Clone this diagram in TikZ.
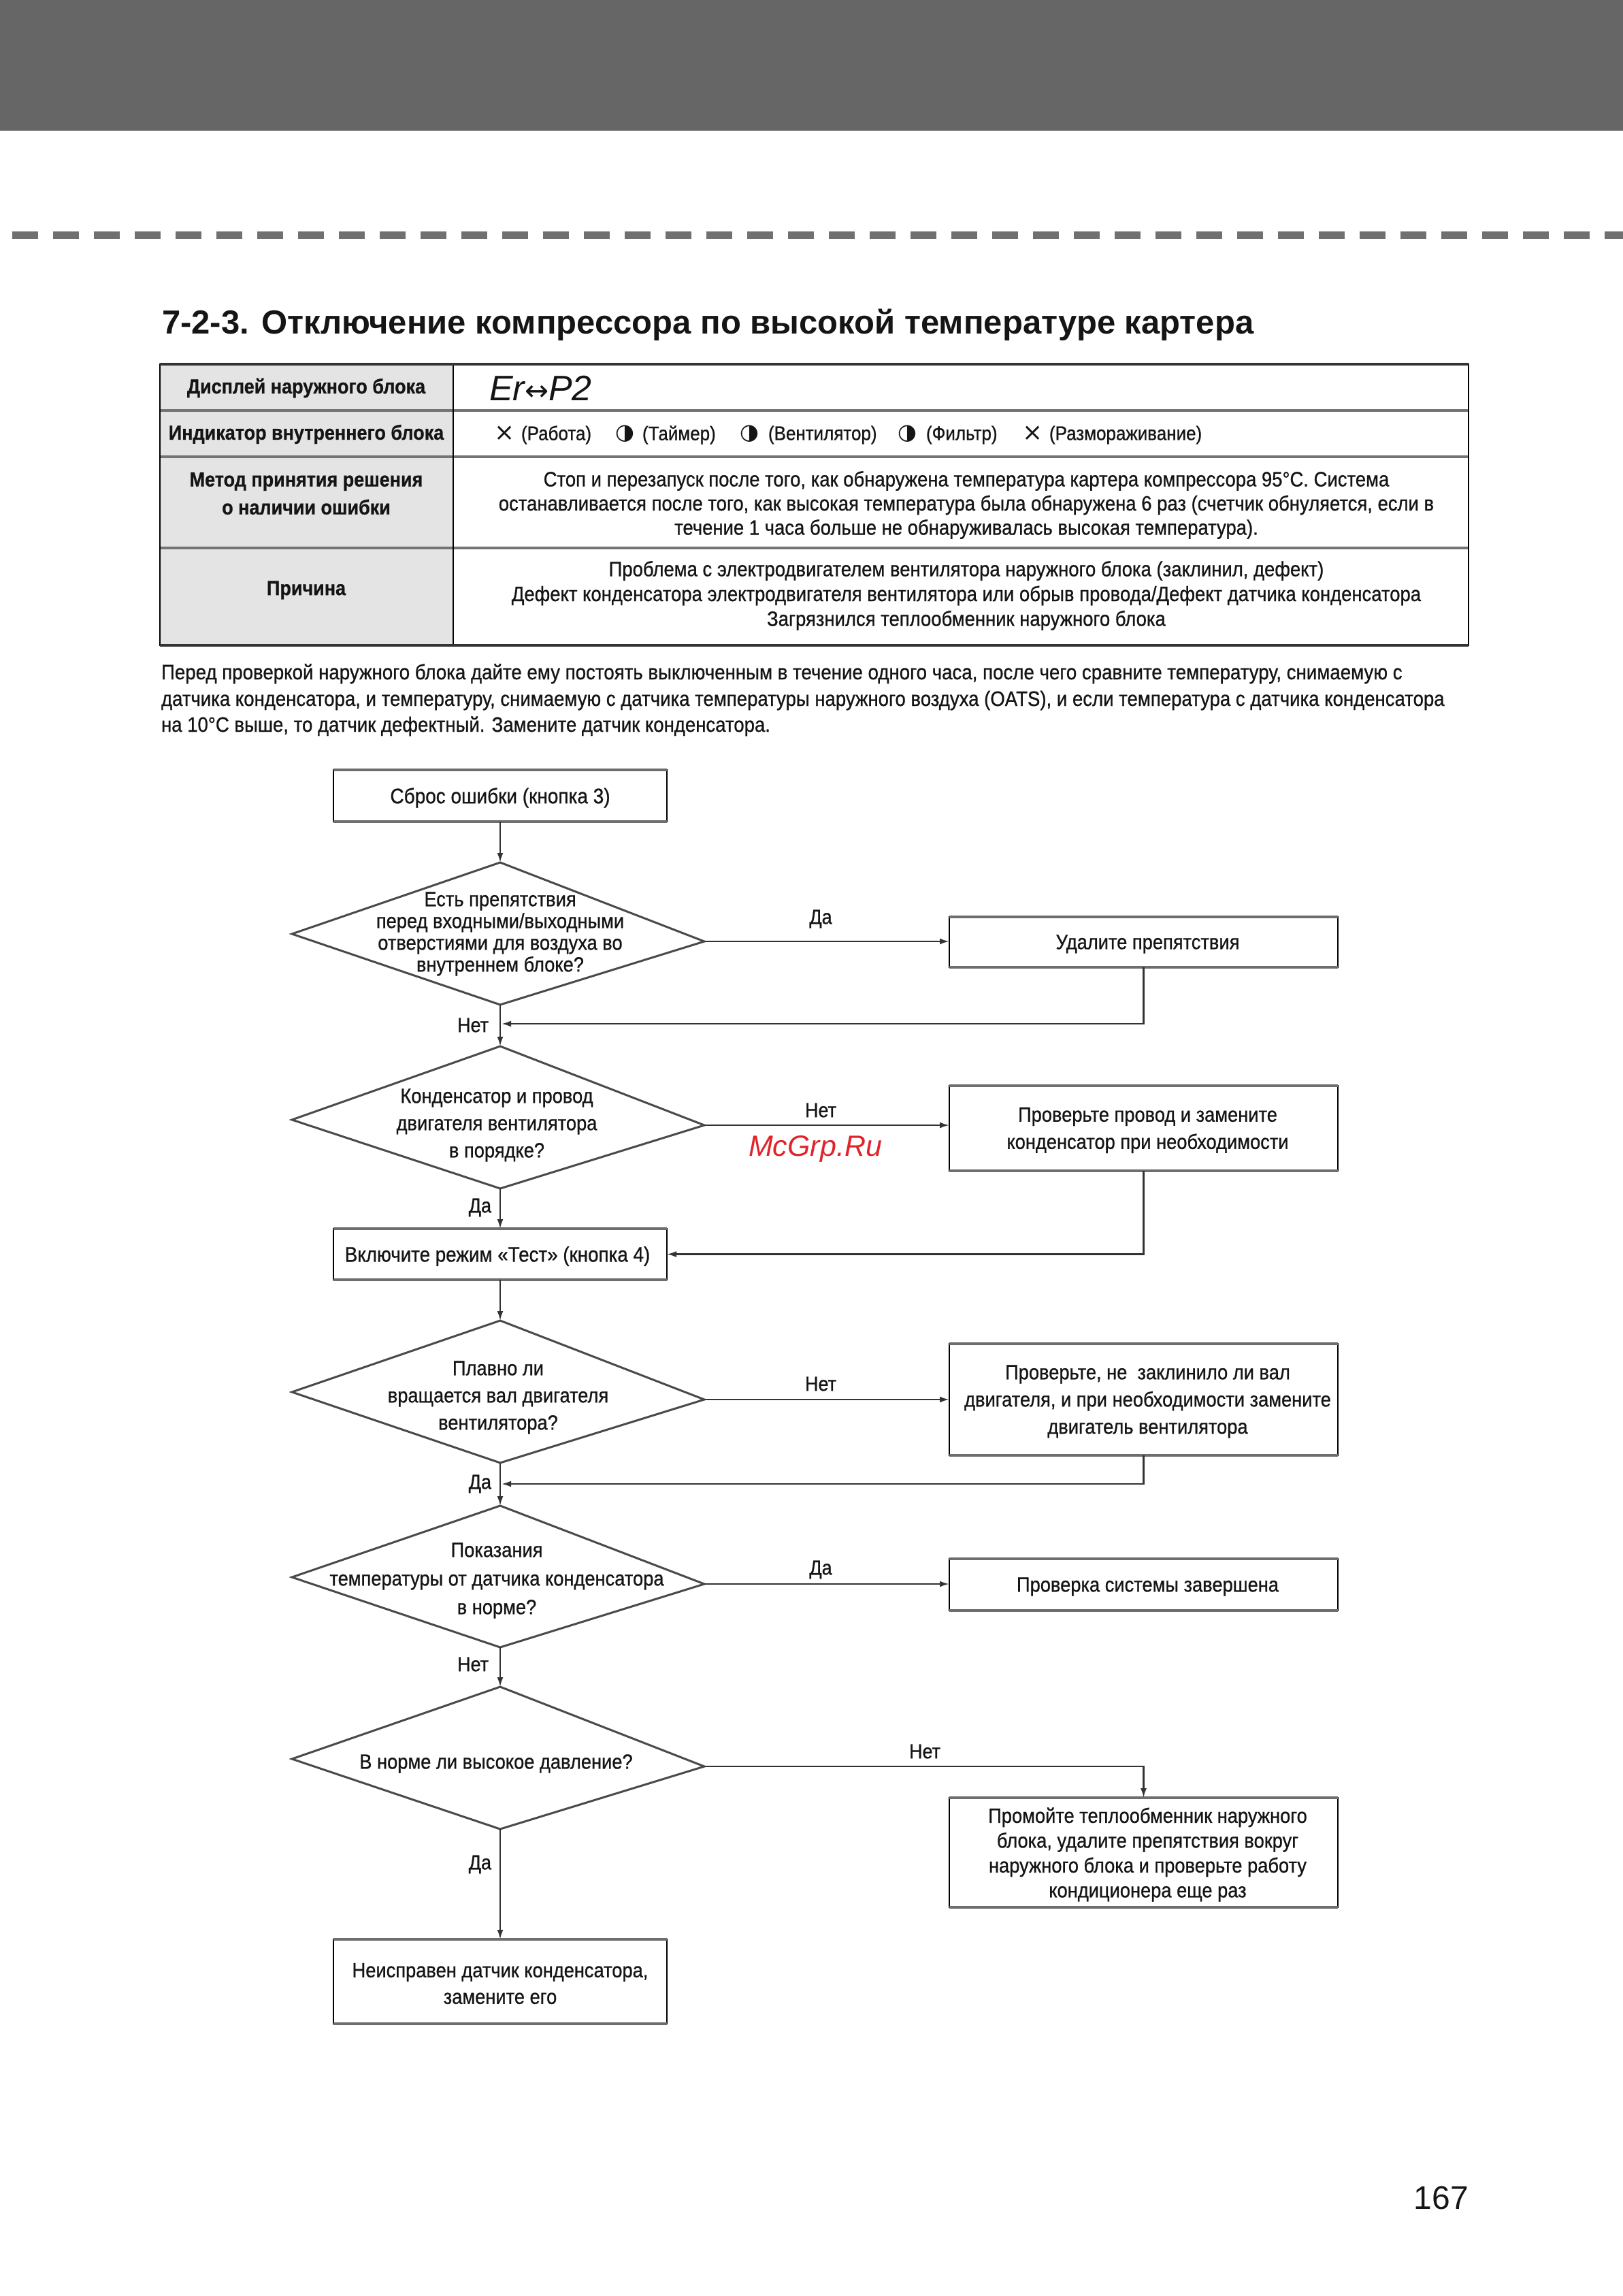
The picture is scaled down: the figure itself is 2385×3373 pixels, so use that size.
\documentclass[tikz,border=0pt]{standalone}
\usepackage{fontspec}
\setmainfont{Liberation Sans}[Scale=1.11, FakeStretch=0.9, FakeBold=0.8]
\newfontfamily\ttlfont{Liberation Sans}
\newfontfamily\djv{DejaVu Sans}
\usetikzlibrary{arrows.meta}
\definecolor{band}{HTML}{666666}
\definecolor{dashc}{HTML}{707070}
\definecolor{cellg}{HTML}{E4E4E4}
\definecolor{rulec}{HTML}{747474}
\definecolor{edgec}{HTML}{6E6E6E}
\definecolor{linec}{HTML}{333333}
\definecolor{diac}{HTML}{4A4A4A}
\definecolor{wmred}{HTML}{E0242A}
\definecolor{ink}{HTML}{151515}
\newcommand\fz[2]{\fontsize{#1}{#2}\selectfont}
\begin{document}
\begin{tikzpicture}[x=1pt,y=-1pt,
  every node/.style={inner sep=0pt, outer sep=0pt, text=ink},
  box/.style={draw=black, line width=1.6pt},
  lbox/.style={box, minimum width=490pt},
  rbox/.style={box, minimum width=571pt},
  hedge/.style={draw=edgec, line width=4.5pt},
  conn/.style={draw=linec, line width=2.4pt},
  arr/.style={conn, -{Latex[length=14pt,width=9pt]}},
  dia/.style={draw=diac, line width=3pt, line join=miter},
  txt/.style={font=\fz{27.3}{40}, align=center},
  lab/.style={font=\fz{27}{32}},
  hd/.style={font=\fz{27}{41}\bfseries, align=center},
  bd/.style={font=\fz{27.5}{35.5}, align=center},
  sym/.style={font=\djv\fz{32}{32}},
  xsym/.style={font=\djv\fz{36}{36}},
  rlab/.style={font=\fz{26}{30}, anchor=west}]
\useasboundingbox (0,0) rectangle (2385,3373);
\fill[white] (0,0) rectangle (2385,3373);
% header band and dashes
\fill[band] (0,0) rectangle (2385,192);
\draw[dashc, line width=11pt, dash pattern=on 38pt off 22pt] (18,345) -- (2385,345);
% title
\node[font=\ttlfont\fz{49}{49}\bfseries, anchor=base west] (title) at (238,490) {7-2-3. Отключение компрессора по высокой температуре картера};
% table
\fill[cellg] (235,535) rectangle (666,948);
\draw[rulec, line width=4pt] (235,603) -- (2158,603) (235,671) -- (2158,671) (235,805) -- (2158,805);
\draw[black, line width=2pt] (666,535) -- (666,948);
\draw[black, line width=2.5pt] (235,535) rectangle (2158,948);
\draw[linec, line width=4.5pt] (235,535) -- (2158,535) (235,948) -- (2158,948);
\node[hd] (t1l) at (450,570) {Дисплей наружного блока};
\node[hd] (t2l) at (450,638) {Индикатор внутреннего блока};
\node[hd] (t3l) at (450,725) {Метод принятия решения\\о наличии ошибки};
\node[hd] (t4l) at (450,867) {Причина};
\node[anchor=west, font=\ttlfont\fz{52}{52}\itshape] (t1r) at (719,570) {Er{\djv\fz{42}{42}\upshape ↔}P2};
\node[xsym] (s1) at (742,637) {×};
\node[rlab] (r1) at (766,639) {(Работа)};
\node[sym] (s2) at (918,637) {◑};
\node[rlab] (r2) at (944,639) {(Таймер)};
\node[sym] (s3) at (1101,637) {◑};
\node[rlab] (r3) at (1129,639) {(Вентилятор)};
\node[sym] (s4) at (1333,637) {◑};
\node[rlab] (r4) at (1361,639) {(Фильтр)};
\node[xsym] (s5) at (1518,637) {×};
\node[rlab] (r5) at (1542,639) {(Размораживание)};
\node[bd] (t3r) at (1420,742) {Стоп и перезапуск после того, как обнаружена температура картера компрессора 95°C. Система\\останавливается после того, как высокая температура была обнаружена 6 раз (счетчик обнуляется, если в\\течение 1 часа больше не обнаруживалась высокая температура).};
\node[bd, font=\fz{27.5}{36.5}] (t4r) at (1420,875) {Проблема с электродвигателем вентилятора наружного блока (заклинил, дефект)\\Дефект конденсатора электродвигателя вентилятора или обрыв провода/Дефект датчика конденсатора\\Загрязнился теплообменник наружного блока};
% paragraph
\node[font=\fz{27.7}{40}, anchor=base west] (p1) at (237,998) {Перед проверкой наружного блока дайте ему постоять выключенным в течение одного часа, после чего сравните температуру, снимаемую с};
\node[font=\fz{27.6}{40}, anchor=base west] (p2) at (237,1037) {датчика конденсатора, и температуру, снимаемую с датчика температуры наружного воздуха (OATS), и если температура с датчика конденсатора};
\node[font=\fz{27.6}{40}, anchor=base west] (p3) at (237,1075) {на 10°C выше, то датчик дефектный. Замените датчик конденсатора.};
% boxes
\node[lbox, minimum height=76pt] (b1) at (735,1169) {};
\node[rbox, minimum height=74pt] (b2) at (1680.5,1384) {};
\node[rbox, minimum height=125pt] (b3) at (1680.5,1657.5) {};
\node[lbox, minimum height=75pt] (b4) at (735,1842.5) {};
\node[rbox, minimum height=164pt] (b5) at (1680.5,2056) {};
\node[rbox, minimum height=76pt] (b6) at (1680.5,2328) {};
\node[rbox, minimum height=161pt] (b7) at (1680.5,2721.5) {};
\node[lbox, minimum height=124pt] (b8) at (735,2911) {};
\foreach \n in {b1,b2,b3,b4,b5,b6,b7,b8} {
  \draw[hedge] (\n.north west) -- (\n.north east) (\n.south west) -- (\n.south east);
}
\node[txt, font=\fz{28}{40}] (b1x) at ([yshift=-3pt]b1.center) {Сброс ошибки (кнопка 3)};
\node[txt] (b2x) at ([xshift=6pt,yshift=-3pt]b2.center) {Удалите препятствия};
\node[txt] (b3x) at ([xshift=6pt,yshift=-3pt]b3.center) {Проверьте провод и замените\\конденсатор при необходимости};
\node[txt, font=\fz{27.8}{40}] (b4x) at ([xshift=-4pt,yshift=-3pt]b4.center) {Включите режим «Тест» (кнопка 4)};
\node[txt] (b5x) at ([xshift=6pt,yshift=-3pt]b5.center) {Проверьте, не\ \ заклинило ли вал\\двигателя, и при необходимости замените\\двигатель вентилятора};
\node[txt] (b6x) at ([xshift=6pt,yshift=-3pt]b6.center) {Проверка системы завершена};
\node[txt, font=\fz{27.3}{36.5}] (b7x) at ([xshift=6pt,yshift=-3pt]b7.center) {Промойте теплообменник наружного\\блока, удалите препятствия вокруг\\наружного блока и проверьте работу\\кондиционера еще раз};
\node[txt, font=\fz{27.3}{39}] (b8x) at ([yshift=-3pt]b8.center) {Неисправен датчик конденсатора,\\замените его};
% diamonds
\coordinate (d1t) at (735,1267); \coordinate (d1r) at (1035,1383); \coordinate (d1b) at (735,1476); \coordinate (d1l) at (429,1372);
\coordinate (d2t) at (735,1537); \coordinate (d2r) at (1035,1653); \coordinate (d2b) at (735,1746); \coordinate (d2l) at (429,1645);
\coordinate (d3t) at (735,1940); \coordinate (d3r) at (1035,2056); \coordinate (d3b) at (735,2149); \coordinate (d3l) at (429,2045);
\coordinate (d4t) at (735,2212); \coordinate (d4r) at (1035,2327); \coordinate (d4b) at (735,2420); \coordinate (d4l) at (429,2317);
\coordinate (d5t) at (735,2478); \coordinate (d5r) at (1035,2595); \coordinate (d5b) at (735,2687); \coordinate (d5l) at (429,2584);
\foreach \d in {d1,d2,d3,d4,d5} {
  \draw[dia] (\d t) -- (\d r) -- (\d b) -- (\d l) -- cycle;
}
\node[txt, font=\fz{27.3}{32}] (d1x) at (735,1372) {Есть препятствия\\перед входными/выходными\\отверстиями для воздуха во\\внутреннем блоке?};
\node[txt] (d2x) at (730,1653) {Конденсатор и провод\\двигателя вентилятора\\в порядке?};
\node[txt] (d3x) at (732,2053) {Плавно ли\\вращается вал двигателя\\вентилятора?};
\node[txt, font=\fz{27.3}{42}] (d4x) at (730,2322) {Показания\\температуры от датчика конденсатора\\в норме?};
\node[txt] (d5x) at (729,2591) {В норме ли высокое давление?};
% watermark
\node[font=\ttlfont\fz{43}{43}\itshape, text=wmred] (wm) at (1198,1688) {McGrp.Ru};
% connectors
\coordinate (j1) at (737,1504);
\coordinate (j2) at (737,2180);
\draw[arr] (b1.south) -- (d1t);
\draw[arr] (d1r) -- (d1r -| b2.west);
\draw[arr] (b2.south) |- (j1);
\draw[arr] (d1b) -- (d2t);
\draw[arr] (d2r) -- (d2r -| b3.west);
\draw[arr] (d2b) -- (b4.north);
\draw[arr] (b3.south) |- (b4.east);
\draw[arr] (b4.south) -- (d3t);
\draw[arr] (d3r) -- (d3r -| b5.west);
\draw[arr] (b5.south) |- (j2);
\draw[arr] (d3b) -- (d4t);
\draw[arr] (d4r) -- (d4r -| b6.west);
\draw[arr] (d4b) -- (d5t);
\draw[arr] (d5r) -| (b7.north);
\draw[arr] (d5b) -- (b8.north);
% labels
\node[lab] (l1) at (1206,1350) {Да};
\node[lab, anchor=east] (l2) at (718,1506) {Нет};
\node[lab] (l3) at (1206,1631) {Нет};
\node[lab, anchor=east] (l4) at (722,1774) {Да};
\node[lab] (l5) at (1206,2033) {Нет};
\node[lab, anchor=east] (l6) at (722,2180) {Да};
\node[lab] (l7) at (1206,2306) {Да};
\node[lab, anchor=east] (l8) at (718,2445) {Нет};
\node[lab] (l9) at (1359,2573) {Нет};
\node[lab, anchor=east] (l10) at (722,2739) {Да};
% page number
\node[font=\ttlfont\fz{48}{48}, anchor=base east] (pg) at (2158,3245) {167};
\end{tikzpicture}
\end{document}
